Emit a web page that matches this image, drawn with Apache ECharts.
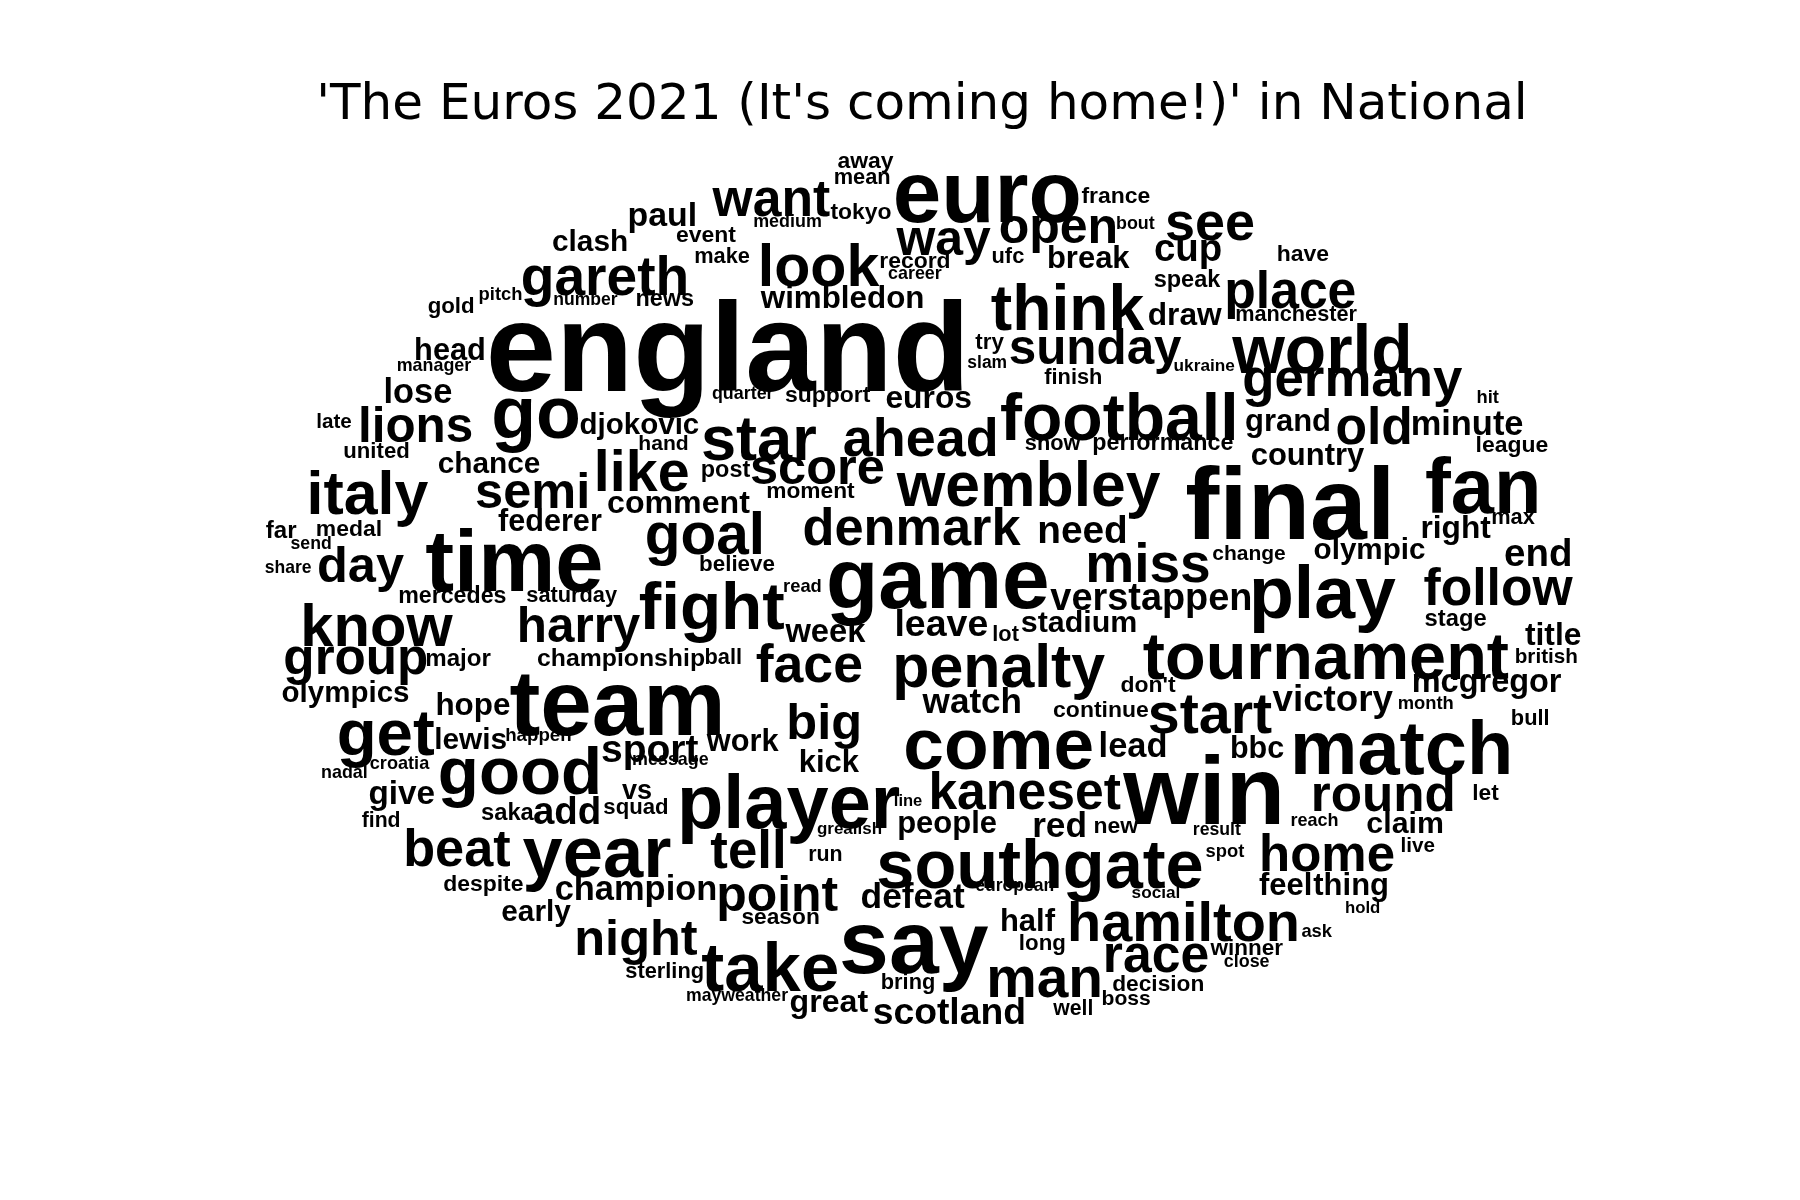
<!DOCTYPE html>
<html><head><meta charset="utf-8">
<script src="https://cdn.jsdelivr.net/npm/echarts@6/dist/echarts.min.js"></script>
<style>html,body{margin:0;padding:0;background:#fff}#c{width:1800px;height:1200px}</style>
</head><body><div id="c"></div>
<script>
// Word cloud content: words, layout coordinates (cloud units, baseline), and frequency weights
const words = ["away","mean","euro","france","want","paul","tokyo","medium","bout","open","see","way","event","clash","gareth","make","look","record","career","ufc","break","cup","have","speak","think","place","gold","pitch","number","news","wimbledon","draw","manchester","england","head","manager","try","slam","sunday","ukraine","world","germany","finish","lose","quarter","support","euros","football","hit","go","lions","djokovic","late","star","ahead","grand","old","minute","hand","show","performance","united","league","country","chance","like","post","score","italy","semi","wembley","final","fan","moment","comment","federer","goal","denmark","need","far","medal","send","right","max","share","day","time","believe","game","miss","change","olympic","end","read","mercedes","saturday","fight","verstappen","play","follow","know","harry","week","leave","lot","stadium","stage","title","group","major","championship","ball","face","penalty","tournament","british","olympics","team","watch","don't","victory","mcgregor","hope","continue","month","start","get","big","bull","lewis","happen","sport","work","come","lead","bbc","match","good","message","croatia","kick","nadal","let","kane","set","vs","player","win","round","give","saka","add","squad","line","find","people","red","new","result","reach","claim","grealish","beat","year","tell","run","southgate","spot","home","live","despite","champion","point","defeat","european","social","feel","thing","hold","early","season","half","hamilton","ask","night","say","long","race","winner","close","take","sterling","man","bring","decision","mayweather","great","boss","well","scotland"];
const xs = [754,751,860,972,672,577,750,686,989,922,1054,822,615,514,527,629,713,797,797,878,948,1035,1135,1034,930,1124,393,436,510,579,734,1032,1129,634,392,378,862,860,954,1049,1152,1178,935,364,647,721,809,975,1296,467,362,557,291,661,802,1122,1197,1278,578,917,1013,328,1317,1139,426,559,632,712,320,464,896,1124,1292,706,591,479,614,794,943,245,304,271,1268,1318,251,314,448,642,817,1000,1088,1193,1340,699,394,498,620,1003,1152,1305,328,504,719,820,876,940,1268,1353,310,399,541,630,705,870,1155,1347,301,538,847,1000,1161,1295,412,959,1242,1054,336,718,1333,410,469,566,647,870,987,1095,1221,453,584,348,722,300,1294,860,944,555,687,1049,1205,350,442,494,554,791,332,825,923,972,1060,1145,1224,740,398,520,652,719,906,1067,1156,1235,421,554,677,795,884,1007,1120,1177,1187,467,680,895,1031,1147,554,796,908,1007,1086,1086,671,579,910,791,1009,642,722,981,935,827];
const ys = [147,161,189,177,186,196,191,198,200,210,207,220,211,218,255,229,247,234,244,229,233,226,228,250,285,266,273,262,266,267,268,283,280,333,313,324,304,321,315,324,322,343,335,350,348,350,355,380,352,378,383,378,373,398,395,375,385,378,392,392,392,399,394,405,412,425,416,420,445,441,438,464,443,434,446,462,480,473,472,469,467,479,468,457,500,505,510,498,525,505,488,487,492,516,525,525,545,530,535,525,560,557,559,553,559,550,545,561,585,580,580,579,592,596,588,578,611,635,620,603,618,602,622,625,618,636,655,642,632,652,646,663,654,666,659,660,670,688,667,670,672,678,697,703,703,696,717,712,704,700,714,717,709,703,721,725,728,726,728,720,725,727,752,760,754,750,770,747,757,742,776,783,792,790,777,783,779,779,796,802,805,810,817,817,830,843,828,845,832,843,860,852,866,862,863,872,881,876,884,891];
const weights = [20,19,76,20,45,29.5,20,15.6,15.6,43.6,47,43.5,20,26,48,19,51.5,20,15.6,19,27,33.5,20,20.5,56,45,19.4,16,15.3,20.4,27.3,27.6,18.9,110,26.8,15.6,19.5,15.2,43,15,59,46,19,30,15.6,20,27.7,57.6,16,64,43,25.7,18,55,47,27,45,30,18.4,19,20.3,19.3,20,27,26,50,20.4,44,53,44,54.4,89,67.6,19.8,28,26.7,51,45.6,33.8,21,20,15.4,27.6,19,15.3,44,75.5,19.5,74.6,48,18.3,25.8,33.5,16,20.2,19,58.8,33,64,45,52,43,28.5,32.7,19,26.5,20.7,27.7,44.6,21,21.6,19,46.7,53,58,18,25.7,80.7,30.6,20,32,28.3,27.4,20,16,50,57,44,19,26,16.3,34,26.8,63.7,30,26.6,66,58.6,15.6,15.8,27,15.6,19.8,45,45,23.6,66,84.6,44.6,29,20.7,33.5,19.3,14.4,18.5,27,30.7,20,15.4,15.7,26.4,14.8,45.5,63,46,18.6,59.7,16,44.4,18,20,30,43.5,30.8,15.3,15,27,27,14.6,26,19.8,27,48.7,16,44,78,19.4,45,19.6,15.6,60,19,49.5,19,19.8,15.4,28,18.4,18.5,32.5];
const titleText = "'The Euros 2021 (It's coming home!)' in National";

const cloudW = 1568, cloudH = 1045;
const chart = echarts.init(document.getElementById('c'), null, {renderer: 'canvas'});
const K = chart.getWidth() / cloudW;
// label is centred vertically on its anchor: lift the anchor from the baseline by part of the em
const data = words.map((w, i) => ({
  name: w,
  value: [xs[i], ys[i] - (0.19 * weights[i] + 2), weights[i]],
  label: {fontSize: weights[i] * K}
}));
chart.setOption({
  animation: false,
  backgroundColor: '#ffffff',
  title: {
    text: titleText,
    left: 917, top: 76,
    textAlign: 'center',
    textStyle: {fontFamily: 'DejaVu Sans', fontWeight: 'normal', fontSize: 50, color: '#000'}
  },
  grid: {left: 0, right: 0, top: 0, bottom: 0},
  xAxis: {type: 'value', min: 0, max: cloudW, show: false},
  yAxis: {type: 'value', min: 0, max: cloudH, inverse: true, show: false},
  series: [{
    type: 'scatter',
    silent: true,
    symbolSize: 1,
    itemStyle: {color: 'rgba(0,0,0,0)', opacity: 1},
    label: {
      show: true, position: 'inside', formatter: p => p.name,
      color: '#000', opacity: 1, textBorderWidth: 0,
      fontFamily: '"Liberation Sans", Arial, sans-serif', fontWeight: 'bold',
      align: 'center', verticalAlign: 'middle'
    },
    emphasis: {disabled: true},
    labelLayout: {hideOverlap: false},
    data: data
  }]
});
</script></body></html>
